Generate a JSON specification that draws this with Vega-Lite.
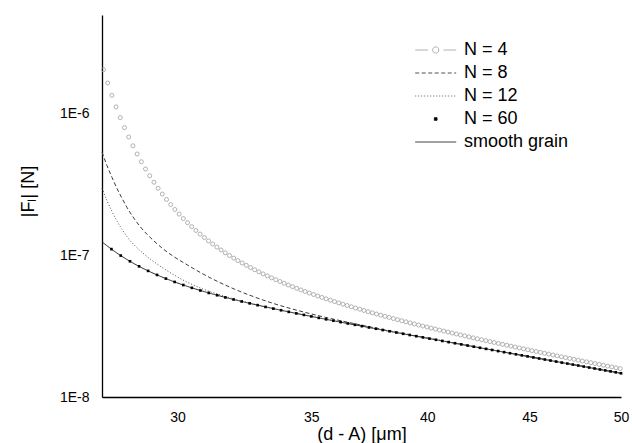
{
  "$schema": "https://vega.github.io/schema/vega-lite/v6.json",
  "width": 519,
  "height": 382,
  "autosize": {"type": "none"},
  "padding": {"left": 102, "top": 15, "right": 11, "bottom": 46},
  "config": {
    "view": {"stroke": null},
    "font": "Liberation Sans",
    "axis": {
      "grid": false,
      "domainColor": "#000",
      "domainWidth": 1.3,
      "labelFont": "Liberation Sans",
      "labelFontSize": 14,
      "labelColor": "#000",
      "titleFont": "Liberation Sans",
      "titleFontSize": 18,
      "titleFontWeight": "normal",
      "titleColor": "#000"
    }
  },
  "datasets": {
    "lines": [
      {"s": "smooth grain", "x": 27.5, "y": 1.250e-7}, {"s": "smooth grain", "x": 27.659, "y": 1.171e-7}, {"s": "smooth grain", "x": 27.819, "y": 1.101e-7}, {"s": "smooth grain", "x": 27.979, "y": 1.039e-7}, {"s": "smooth grain", "x": 28.141, "y": 9.847e-8}, {"s": "smooth grain", "x": 28.304, "y": 9.359e-8}, {"s": "smooth grain", "x": 28.467, "y": 8.92e-8}, {"s": "smooth grain", "x": 28.797, "y": 8.173e-8}, {"s": "smooth grain", "x": 29.131, "y": 7.556e-8}, {"s": "smooth grain", "x": 29.468, "y": 7.041e-8}, {"s": "smooth grain", "x": 29.81, "y": 6.604e-8}, {"s": "smooth grain", "x": 30.329, "y": 6.059e-8}, {"s": "smooth grain", "x": 30.858, "y": 5.613e-8}, {"s": "smooth grain", "x": 31.396, "y": 5.238e-8}, {"s": "smooth grain", "x": 31.943, "y": 4.916e-8}, {"s": "smooth grain", "x": 32.688, "y": 4.548e-8}, {"s": "smooth grain", "x": 33.45, "y": 4.231e-8}, {"s": "smooth grain", "x": 34.229, "y": 3.952e-8}, {"s": "smooth grain", "x": 35.433, "y": 3.585e-8}, {"s": "smooth grain", "x": 37.104, "y": 3.166e-8}, {"s": "smooth grain", "x": 38.854, "y": 2.806e-8}, {"s": "smooth grain", "x": 41.158, "y": 2.418e-8}, {"s": "smooth grain", "x": 43.598, "y": 2.087e-8}, {"s": "smooth grain", "x": 46.719, "y": 1.749e-8}, {"s": "smooth grain", "x": 50, "y": 1.471e-8},
      {"s": "N = 8", "x": 27.5, "y": 5.375e-7}, {"s": "N = 8", "x": 27.659, "y": 4.313e-7}, {"s": "N = 8", "x": 27.819, "y": 3.559e-7}, {"s": "N = 8", "x": 27.979, "y": 2.972e-7}, {"s": "N = 8", "x": 28.141, "y": 2.534e-7}, {"s": "N = 8", "x": 28.304, "y": 2.184e-7}, {"s": "N = 8", "x": 28.467, "y": 1.919e-7}, {"s": "N = 8", "x": 28.797, "y": 1.543e-7}, {"s": "N = 8", "x": 29.131, "y": 1.304e-7}, {"s": "N = 8", "x": 29.468, "y": 1.129e-7}, {"s": "N = 8", "x": 29.81, "y": 1.001e-7}, {"s": "N = 8", "x": 30.329, "y": 8.601e-8}, {"s": "N = 8", "x": 30.858, "y": 7.465e-8}, {"s": "N = 8", "x": 31.396, "y": 6.581e-8}, {"s": "N = 8", "x": 31.943, "y": 5.881e-8}, {"s": "N = 8", "x": 32.688, "y": 5.164e-8}, {"s": "N = 8", "x": 33.45, "y": 4.613e-8}, {"s": "N = 8", "x": 34.229, "y": 4.191e-8}, {"s": "N = 8", "x": 35.433, "y": 3.704e-8}, {"s": "N = 8", "x": 37.104, "y": 3.213e-8}, {"s": "N = 8", "x": 38.854, "y": 2.824e-8}, {"s": "N = 8", "x": 41.158, "y": 2.424e-8}, {"s": "N = 8", "x": 43.598, "y": 2.089e-8}, {"s": "N = 8", "x": 46.719, "y": 1.750e-8}, {"s": "N = 8", "x": 50, "y": 1.471e-8},
      {"s": "N = 12", "x": 27.5, "y": 2.989e-7}, {"s": "N = 12", "x": 27.659, "y": 2.438e-7}, {"s": "N = 12", "x": 27.819, "y": 2.045e-7}, {"s": "N = 12", "x": 27.979, "y": 1.750e-7}, {"s": "N = 12", "x": 28.141, "y": 1.529e-7}, {"s": "N = 12", "x": 28.304, "y": 1.357e-7}, {"s": "N = 12", "x": 28.467, "y": 1.232e-7}, {"s": "N = 12", "x": 28.797, "y": 1.052e-7}, {"s": "N = 12", "x": 29.131, "y": 9.233e-8}, {"s": "N = 12", "x": 29.468, "y": 8.233e-8}, {"s": "N = 12", "x": 29.81, "y": 7.426e-8}, {"s": "N = 12", "x": 30.329, "y": 6.488e-8}, {"s": "N = 12", "x": 30.858, "y": 5.827e-8}, {"s": "N = 12", "x": 31.396, "y": 5.350e-8}, {"s": "N = 12", "x": 31.943, "y": 4.973e-8}, {"s": "N = 12", "x": 32.688, "y": 4.570e-8}, {"s": "N = 12", "x": 33.45, "y": 4.239e-8}, {"s": "N = 12", "x": 34.229, "y": 3.955e-8}, {"s": "N = 12", "x": 35.433, "y": 3.586e-8}, {"s": "N = 12", "x": 37.104, "y": 3.166e-8}, {"s": "N = 12", "x": 38.854, "y": 2.806e-8}, {"s": "N = 12", "x": 41.158, "y": 2.418e-8}, {"s": "N = 12", "x": 43.598, "y": 2.087e-8}, {"s": "N = 12", "x": 46.719, "y": 1.749e-8}, {"s": "N = 12", "x": 50, "y": 1.471e-8}
    ],
    "circles": [
      {"s": "N = 4", "x": 27.548, "y": 2.054e-6}, {"s": "N = 4", "x": 27.681, "y": 1.654e-6}, {"s": "N = 4", "x": 27.815, "y": 1.353e-6}, {"s": "N = 4", "x": 27.95, "y": 1.122e-6}, {"s": "N = 4", "x": 28.086, "y": 9.42e-7}, {"s": "N = 4", "x": 28.222, "y": 8.003e-7}, {"s": "N = 4", "x": 28.359, "y": 6.871e-7}, {"s": "N = 4", "x": 28.497, "y": 5.957e-7}, {"s": "N = 4", "x": 28.635, "y": 5.211e-7}, {"s": "N = 4", "x": 28.774, "y": 4.596e-7},
      {"s": "N = 4", "x": 28.913, "y": 4.084e-7}, {"s": "N = 4", "x": 29.054, "y": 3.655e-7}, {"s": "N = 4", "x": 29.195, "y": 3.292e-7}, {"s": "N = 4", "x": 29.336, "y": 2.982e-7}, {"s": "N = 4", "x": 29.478, "y": 2.716e-7}, {"s": "N = 4", "x": 29.621, "y": 2.487e-7}, {"s": "N = 4", "x": 29.765, "y": 2.287e-7}, {"s": "N = 4", "x": 29.909, "y": 2.113e-7}, {"s": "N = 4", "x": 30.055, "y": 1.96e-7}, {"s": "N = 4", "x": 30.2, "y": 1.825e-7},
      {"s": "N = 4", "x": 30.347, "y": 1.705e-7}, {"s": "N = 4", "x": 30.494, "y": 1.598e-7}, {"s": "N = 4", "x": 30.642, "y": 1.502e-7}, {"s": "N = 4", "x": 30.791, "y": 1.416e-7}, {"s": "N = 4", "x": 30.94, "y": 1.339e-7}, {"s": "N = 4", "x": 31.09, "y": 1.268e-7}, {"s": "N = 4", "x": 31.24, "y": 1.205e-7}, {"s": "N = 4", "x": 31.392, "y": 1.146e-7}, {"s": "N = 4", "x": 31.544, "y": 1.093e-7}, {"s": "N = 4", "x": 31.697, "y": 1.044e-7},
      {"s": "N = 4", "x": 31.851, "y": 9.996e-8}, {"s": "N = 4", "x": 32.006, "y": 9.583e-8}, {"s": "N = 4", "x": 32.161, "y": 9.201e-8}, {"s": "N = 4", "x": 32.317, "y": 8.847e-8}, {"s": "N = 4", "x": 32.474, "y": 8.518e-8}, {"s": "N = 4", "x": 32.631, "y": 8.211e-8}, {"s": "N = 4", "x": 32.789, "y": 7.926e-8}, {"s": "N = 4", "x": 32.949, "y": 7.658e-8}, {"s": "N = 4", "x": 33.108, "y": 7.408e-8}, {"s": "N = 4", "x": 33.269, "y": 7.173e-8},
      {"s": "N = 4", "x": 33.43, "y": 6.952e-8}, {"s": "N = 4", "x": 33.593, "y": 6.743e-8}, {"s": "N = 4", "x": 33.756, "y": 6.547e-8}, {"s": "N = 4", "x": 33.919, "y": 6.361e-8}, {"s": "N = 4", "x": 34.084, "y": 6.185e-8}, {"s": "N = 4", "x": 34.249, "y": 6.018e-8}, {"s": "N = 4", "x": 34.415, "y": 5.859e-8}, {"s": "N = 4", "x": 34.582, "y": 5.708e-8}, {"s": "N = 4", "x": 34.75, "y": 5.565e-8}, {"s": "N = 4", "x": 34.918, "y": 5.428e-8},
      {"s": "N = 4", "x": 35.088, "y": 5.297e-8}, {"s": "N = 4", "x": 35.258, "y": 5.172e-8}, {"s": "N = 4", "x": 35.429, "y": 5.052e-8}, {"s": "N = 4", "x": 35.601, "y": 4.938e-8}, {"s": "N = 4", "x": 35.774, "y": 4.828e-8}, {"s": "N = 4", "x": 35.947, "y": 4.722e-8}, {"s": "N = 4", "x": 36.122, "y": 4.621e-8}, {"s": "N = 4", "x": 36.297, "y": 4.523e-8}, {"s": "N = 4", "x": 36.473, "y": 4.429e-8}, {"s": "N = 4", "x": 36.65, "y": 4.339e-8},
      {"s": "N = 4", "x": 36.827, "y": 4.251e-8}, {"s": "N = 4", "x": 37.006, "y": 4.167e-8}, {"s": "N = 4", "x": 37.185, "y": 4.086e-8}, {"s": "N = 4", "x": 37.366, "y": 4.007e-8}, {"s": "N = 4", "x": 37.547, "y": 3.931e-8}, {"s": "N = 4", "x": 37.729, "y": 3.857e-8}, {"s": "N = 4", "x": 37.912, "y": 3.785e-8}, {"s": "N = 4", "x": 38.096, "y": 3.716e-8}, {"s": "N = 4", "x": 38.281, "y": 3.648e-8}, {"s": "N = 4", "x": 38.466, "y": 3.583e-8},
      {"s": "N = 4", "x": 38.653, "y": 3.52e-8}, {"s": "N = 4", "x": 38.84, "y": 3.458e-8}, {"s": "N = 4", "x": 39.029, "y": 3.398e-8}, {"s": "N = 4", "x": 39.218, "y": 3.34e-8}, {"s": "N = 4", "x": 39.408, "y": 3.283e-8}, {"s": "N = 4", "x": 39.6, "y": 3.227e-8}, {"s": "N = 4", "x": 39.792, "y": 3.173e-8}, {"s": "N = 4", "x": 39.985, "y": 3.121e-8}, {"s": "N = 4", "x": 40.179, "y": 3.07e-8}, {"s": "N = 4", "x": 40.374, "y": 3.02e-8},
      {"s": "N = 4", "x": 40.57, "y": 2.971e-8}, {"s": "N = 4", "x": 40.766, "y": 2.923e-8}, {"s": "N = 4", "x": 40.964, "y": 2.877e-8}, {"s": "N = 4", "x": 41.163, "y": 2.831e-8}, {"s": "N = 4", "x": 41.362, "y": 2.787e-8}, {"s": "N = 4", "x": 41.563, "y": 2.743e-8}, {"s": "N = 4", "x": 41.765, "y": 2.701e-8}, {"s": "N = 4", "x": 41.967, "y": 2.659e-8}, {"s": "N = 4", "x": 42.171, "y": 2.618e-8}, {"s": "N = 4", "x": 42.375, "y": 2.578e-8},
      {"s": "N = 4", "x": 42.581, "y": 2.539e-8}, {"s": "N = 4", "x": 42.787, "y": 2.501e-8}, {"s": "N = 4", "x": 42.995, "y": 2.464e-8}, {"s": "N = 4", "x": 43.203, "y": 2.427e-8}, {"s": "N = 4", "x": 43.413, "y": 2.391e-8}, {"s": "N = 4", "x": 43.623, "y": 2.356e-8}, {"s": "N = 4", "x": 43.835, "y": 2.321e-8}, {"s": "N = 4", "x": 44.048, "y": 2.287e-8}, {"s": "N = 4", "x": 44.261, "y": 2.254e-8}, {"s": "N = 4", "x": 44.476, "y": 2.221e-8},
      {"s": "N = 4", "x": 44.692, "y": 2.189e-8}, {"s": "N = 4", "x": 44.909, "y": 2.158e-8}, {"s": "N = 4", "x": 45.126, "y": 2.127e-8}, {"s": "N = 4", "x": 45.345, "y": 2.096e-8}, {"s": "N = 4", "x": 45.565, "y": 2.067e-8}, {"s": "N = 4", "x": 45.786, "y": 2.037e-8}, {"s": "N = 4", "x": 46.008, "y": 2.009e-8}, {"s": "N = 4", "x": 46.232, "y": 1.98e-8}, {"s": "N = 4", "x": 46.456, "y": 1.953e-8}, {"s": "N = 4", "x": 46.681, "y": 1.925e-8},
      {"s": "N = 4", "x": 46.907, "y": 1.899e-8}, {"s": "N = 4", "x": 47.135, "y": 1.872e-8}, {"s": "N = 4", "x": 47.364, "y": 1.846e-8}, {"s": "N = 4", "x": 47.593, "y": 1.821e-8}, {"s": "N = 4", "x": 47.824, "y": 1.796e-8}, {"s": "N = 4", "x": 48.056, "y": 1.771e-8}, {"s": "N = 4", "x": 48.289, "y": 1.747e-8}, {"s": "N = 4", "x": 48.523, "y": 1.723e-8}, {"s": "N = 4", "x": 48.759, "y": 1.699e-8}, {"s": "N = 4", "x": 48.995, "y": 1.676e-8},
      {"s": "N = 4", "x": 49.233, "y": 1.653e-8}, {"s": "N = 4", "x": 49.472, "y": 1.631e-8}, {"s": "N = 4", "x": 49.712, "y": 1.609e-8}, {"s": "N = 4", "x": 49.953, "y": 1.587e-8}
    ],
    "squares": [
      {"s": "N = 60", "x": 27.8, "y": 1.109e-7}, {"s": "N = 60", "x": 28.1, "y": 9.979e-8}, {"s": "N = 60", "x": 28.4, "y": 9.095e-8}, {"s": "N = 60", "x": 28.7, "y": 8.377e-8}, {"s": "N = 60", "x": 29.0, "y": 7.783e-8}, {"s": "N = 60", "x": 29.3, "y": 7.286e-8}, {"s": "N = 60", "x": 29.6, "y": 6.864e-8}, {"s": "N = 60", "x": 29.9, "y": 6.5e-8}, {"s": "N = 60", "x": 30.2, "y": 6.184e-8}, {"s": "N = 60", "x": 30.5, "y": 5.905e-8},
      {"s": "N = 60", "x": 30.8, "y": 5.657e-8}, {"s": "N = 60", "x": 31.1, "y": 5.436e-8}, {"s": "N = 60", "x": 31.4, "y": 5.235e-8}, {"s": "N = 60", "x": 31.7, "y": 5.053e-8}, {"s": "N = 60", "x": 32.0, "y": 4.886e-8}, {"s": "N = 60", "x": 32.3, "y": 4.731e-8}, {"s": "N = 60", "x": 32.6, "y": 4.588e-8}, {"s": "N = 60", "x": 32.9, "y": 4.455e-8}, {"s": "N = 60", "x": 33.2, "y": 4.33e-8}, {"s": "N = 60", "x": 33.5, "y": 4.212e-8},
      {"s": "N = 60", "x": 33.8, "y": 4.101e-8}, {"s": "N = 60", "x": 34.1, "y": 3.996e-8}, {"s": "N = 60", "x": 34.4, "y": 3.896e-8}, {"s": "N = 60", "x": 34.7, "y": 3.801e-8}, {"s": "N = 60", "x": 35.0, "y": 3.71e-8}, {"s": "N = 60", "x": 35.3, "y": 3.623e-8}, {"s": "N = 60", "x": 35.6, "y": 3.539e-8}, {"s": "N = 60", "x": 35.9, "y": 3.459e-8}, {"s": "N = 60", "x": 36.2, "y": 3.382e-8}, {"s": "N = 60", "x": 36.5, "y": 3.308e-8},
      {"s": "N = 60", "x": 36.8, "y": 3.236e-8}, {"s": "N = 60", "x": 37.1, "y": 3.167e-8}, {"s": "N = 60", "x": 37.4, "y": 3.101e-8}, {"s": "N = 60", "x": 37.7, "y": 3.036e-8}, {"s": "N = 60", "x": 38.0, "y": 2.973e-8}, {"s": "N = 60", "x": 38.3, "y": 2.913e-8}, {"s": "N = 60", "x": 38.6, "y": 2.854e-8}, {"s": "N = 60", "x": 38.9, "y": 2.797e-8}, {"s": "N = 60", "x": 39.2, "y": 2.742e-8}, {"s": "N = 60", "x": 39.5, "y": 2.689e-8},
      {"s": "N = 60", "x": 39.8, "y": 2.637e-8}, {"s": "N = 60", "x": 40.1, "y": 2.586e-8}, {"s": "N = 60", "x": 40.4, "y": 2.537e-8}, {"s": "N = 60", "x": 40.7, "y": 2.489e-8}, {"s": "N = 60", "x": 41.0, "y": 2.442e-8}, {"s": "N = 60", "x": 41.3, "y": 2.397e-8}, {"s": "N = 60", "x": 41.6, "y": 2.353e-8}, {"s": "N = 60", "x": 41.9, "y": 2.31e-8}, {"s": "N = 60", "x": 42.2, "y": 2.268e-8}, {"s": "N = 60", "x": 42.5, "y": 2.227e-8},
      {"s": "N = 60", "x": 42.8, "y": 2.188e-8}, {"s": "N = 60", "x": 43.1, "y": 2.149e-8}, {"s": "N = 60", "x": 43.4, "y": 2.111e-8}, {"s": "N = 60", "x": 43.7, "y": 2.074e-8}, {"s": "N = 60", "x": 44.0, "y": 2.038e-8}, {"s": "N = 60", "x": 44.3, "y": 2.003e-8}, {"s": "N = 60", "x": 44.6, "y": 1.969e-8}, {"s": "N = 60", "x": 44.9, "y": 1.936e-8}, {"s": "N = 60", "x": 45.2, "y": 1.903e-8}, {"s": "N = 60", "x": 45.5, "y": 1.871e-8},
      {"s": "N = 60", "x": 45.8, "y": 1.84e-8}, {"s": "N = 60", "x": 46.1, "y": 1.81e-8}, {"s": "N = 60", "x": 46.4, "y": 1.78e-8}, {"s": "N = 60", "x": 46.7, "y": 1.751e-8}, {"s": "N = 60", "x": 47.0, "y": 1.723e-8}, {"s": "N = 60", "x": 47.3, "y": 1.695e-8}, {"s": "N = 60", "x": 47.6, "y": 1.668e-8}, {"s": "N = 60", "x": 47.9, "y": 1.641e-8}, {"s": "N = 60", "x": 48.2, "y": 1.615e-8}, {"s": "N = 60", "x": 48.5, "y": 1.59e-8},
      {"s": "N = 60", "x": 48.8, "y": 1.565e-8}, {"s": "N = 60", "x": 49.1, "y": 1.541e-8}, {"s": "N = 60", "x": 49.4, "y": 1.517e-8}, {"s": "N = 60", "x": 49.7, "y": 1.494e-8}, {"s": "N = 60", "x": 50.0, "y": 1.471e-8}
    ],
    "xmajor": [{"x": 30}, {"x": 35}, {"x": 40}, {"x": 45}, {"x": 50}],
    "xminor": [{"x": 28}, {"x": 28.5}, {"x": 29}, {"x": 29.5}, {"x": 30.5}, {"x": 31}, {"x": 31.5}, {"x": 32}, {"x": 32.5}, {"x": 33}, {"x": 33.5}, {"x": 34}, {"x": 34.5}, {"x": 35.5}, {"x": 36}, {"x": 36.5}, {"x": 37}, {"x": 37.5}, {"x": 38}, {"x": 38.5}, {"x": 39}, {"x": 39.5}, {"x": 40.5}, {"x": 41}, {"x": 41.5}, {"x": 42}, {"x": 42.5}, {"x": 43}, {"x": 43.5}, {"x": 44}, {"x": 44.5}, {"x": 45.5}, {"x": 46}, {"x": 46.5}, {"x": 47}, {"x": 47.5}, {"x": 48}, {"x": 48.5}, {"x": 49}, {"x": 49.5}],
    "ymajor": [{"y": 1e-8}, {"y": 1e-7}, {"y": 1e-6}],
    "yminor": [{"y": 2e-8}, {"y": 3e-8}, {"y": 4e-8}, {"y": 5e-8}, {"y": 6e-8}, {"y": 7e-8}, {"y": 8e-8}, {"y": 9e-8}, {"y": 2e-7}, {"y": 3e-7}, {"y": 4e-7}, {"y": 5e-7}, {"y": 6e-7}, {"y": 7e-7}, {"y": 8e-7}, {"y": 9e-7}, {"y": 2e-6}, {"y": 3e-6}, {"y": 4e-6}, {"y": 5e-6}]
  },
  "encoding": {
    "x": {
      "field": "x",
      "type": "quantitative",
      "scale": {"type": "log", "domain": [27.5, 50], "nice": false, "clamp": false},
      "axis": {
        "values": [30, 35, 40, 45, 50],
        "labelExpr": "format(datum.value, 'd')",
        "ticks": false,
        "labelPadding": 13,
        "labelOverlap": false,
        "labelFlush": false,
        "title": "(d - A) [μm]",
        "titleY": 37,
        "titleBaseline": "middle"
      }
    },
    "y": {
      "field": "y",
      "type": "quantitative",
      "scale": {"type": "log", "domain": [1e-8, 5e-6], "nice": false, "clamp": false},
      "axis": {
        "values": [1e-8, 1e-7, 1e-6],
        "labelExpr": "datum.value == 1e-8 ? '1E-8' : datum.value == 1e-7 ? '1E-7' : '1E-6'",
        "ticks": false,
        "labelPadding": 13,
        "labelOverlap": false,
        "labelFlush": false,
        "title": "|Fₗ| [N]",
        "titleX": -74,
        "titleY": 176,
        "titleAngle": -90,
        "titleAlign": "center",
        "titleBaseline": "middle"
      }
    },
    "color": {
      "field": "s",
      "type": "nominal",
      "scale": {
        "domain": ["N = 4", "N = 8", "N = 12", "N = 60", "smooth grain"],
        "range": ["#a0a0a0", "#3c3c3c", "#505050", "#000000", "#222222"]
      },
      "legend": {
        "title": null,
        "orient": "none",
        "legendX": 335,
        "legendY": 24,
        "padding": 0,
        "symbolSize": 420,
        "labelOffset": 5,
        "rowPadding": 3,
        "labelFont": "Liberation Sans",
        "labelFontSize": 18,
        "labelColor": "#000",
        "encode": {
          "symbols": {
            "update": {
              "shape": {"signal": "datum.value == 'N = 4' ? 'M-3.2,0H-1.96M-0.44,0H0.8M-0.9,0A0.3,0.3,0,1,1,-1.5,0A0.3,0.3,0,1,1,-0.9,0' : datum.value == 'N = 60' ? 'M-1.33,-0.13H-1.07V0.13H-1.33Z' : 'M-3.2,0H0.8'"},
              "strokeDash": {"signal": "datum.value == 'N = 8' ? [4, 2.5] : datum.value == 'N = 12' ? [1, 2] : [1, 0]"},
              "fill": {"signal": "datum.value == 'N = 60' ? '#000000' : 'transparent'"},
              "fillOpacity": {"signal": "datum.value == 'N = 60' ? 1 : 0"},
              "stroke": {"signal": "datum.value == 'N = 60' ? '#000000' : datum.value == 'N = 4' ? '#999999' : datum.value == 'smooth grain' ? '#666666' : '#555555'"},
              "strokeWidth": {"value": 0.9},
              "opacity": {"value": 1}
            }
          }
        }
      }
    }
  },
  "layer": [
    {
      "data": {"name": "xmajor"},
      "mark": {"type": "rule", "strokeWidth": 1.3, "clip": false},
      "encoding": {"y": {"datum": 1e-8, "type": "quantitative"}, "y2": {"datum": 8.92e-9}, "color": {"value": "#000000"}}
    },
    {
      "data": {"name": "xminor"},
      "mark": {"type": "rule", "strokeWidth": 1.3, "clip": false},
      "encoding": {"y": {"datum": 1e-8, "type": "quantitative"}, "y2": {"datum": 9.37e-9}, "color": {"value": "#000000"}}
    },
    {
      "data": {"name": "ymajor"},
      "mark": {"type": "rule", "strokeWidth": 1.3, "clip": false},
      "encoding": {"x": {"datum": 27.5, "type": "quantitative"}, "x2": {"datum": 27.279}, "color": {"value": "#000000"}}
    },
    {
      "data": {"name": "yminor"},
      "mark": {"type": "rule", "strokeWidth": 1.3, "clip": false},
      "encoding": {"x": {"datum": 27.5, "type": "quantitative"}, "x2": {"datum": 27.374}, "color": {"value": "#000000"}}
    },
    {
      "data": {"name": "lines"},
      "mark": {"type": "line", "strokeWidth": 1, "interpolate": "monotone"},
      "encoding": {
        "strokeDash": {
          "field": "s",
          "type": "nominal",
          "scale": {"domain": ["N = 8", "N = 12", "smooth grain"], "range": [[4, 2.5], [1, 2], [1, 0]]},
          "legend": null
        }
      }
    },
    {
      "data": {"name": "circles"},
      "mark": {"type": "point", "shape": "circle", "filled": false, "size": 16, "strokeWidth": 0.8, "opacity": 1}
    },
    {
      "data": {"name": "squares"},
      "mark": {"type": "square", "size": 7, "opacity": 1}
    }
  ]
}
